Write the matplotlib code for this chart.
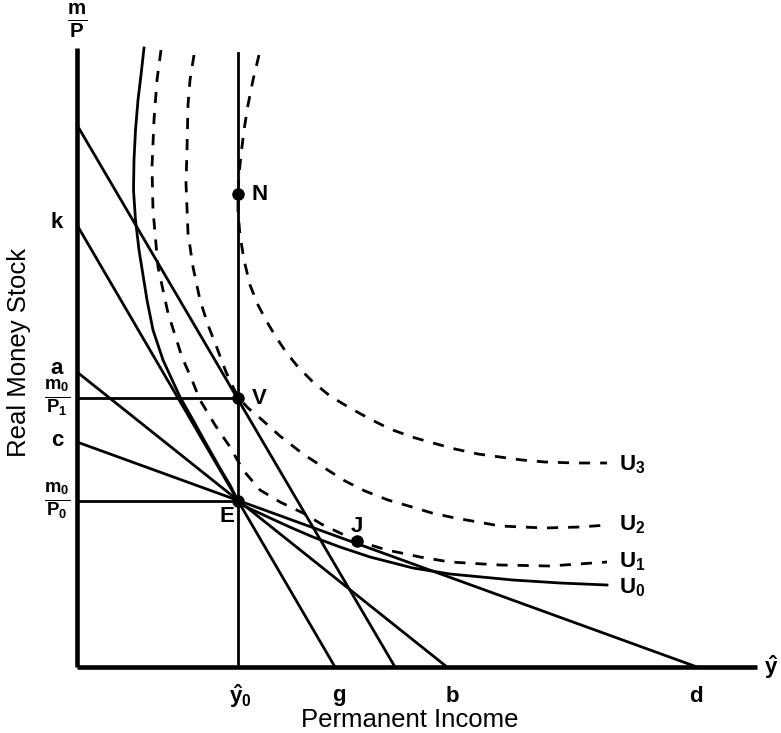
import numpy as np
import matplotlib
matplotlib.use("Agg")
import matplotlib.pyplot as plt

plt.rcParams['font.family'] = ['Liberation Sans', 'DejaVu Sans']
plt.rcParams['mathtext.fontset'] = 'custom'
plt.rcParams['mathtext.rm'] = 'Liberation Sans'
plt.rcParams['mathtext.it'] = 'Liberation Sans'
plt.rcParams['mathtext.bf'] = 'Liberation Sans:bold'
plt.rcParams['mathtext.default'] = 'regular'

# ---- data (units arbitrary) ----
E_pt = (16.1, 16.6)
V_pt = (16.1, 26.9)
N_pt = (16.1, 47.3)
J_pt = (28.0, 12.6)

# budget lines: (y-intercept, x-intercept)
line_kg = (44.2, 25.8)
line_top = (54.2, 31.8)
line_ab = (29.5, 37.0)
line_cd = (22.5, 62.0)

U0_x = [6.7, 6.4, 6.1, 5.85, 5.7, 5.65, 5.85, 6.2, 6.6, 7.0, 7.6, 8.6, 10.3, 11.6, 12.7, 14.4, 15.3, 16.1, 16.7,
        17.8, 19.3, 21.5, 23.6, 26.3, 29.3, 33.6, 37.3, 43.6, 48.3, 53.0]
U0_y = [61.9, 59.2, 56.7, 53.7, 50.7, 47.7, 44.7, 41.7, 39.2, 36.7, 33.7, 30.7, 27.0, 24.7, 22.7, 19.7, 18.2, 16.6, 16.1,
        15.6, 14.9, 13.9, 13.0, 12.0, 11.0, 9.9, 9.3, 8.7, 8.4, 8.2]

U1_x = [8.4, 8.0, 7.7, 7.5, 7.6, 8.1, 9.1, 10.5, 11.5, 12.3, 13.8, 15.3, 16.6, 18.3, 20.3, 22.6, 24.6, 26.3, 28.0,
        31.0, 34.3, 37.3, 42.3, 47.3, 53.0]
U1_y = [61.7, 58.7, 54.7, 50.0, 45.7, 40.0, 35.4, 31.0, 28.7, 26.7, 24.2, 22.0, 19.7, 17.7, 16.5, 15.4, 14.2, 13.4, 12.6,
        11.7, 11.0, 10.5, 10.2, 10.1, 10.5]

U2_x = [11.7, 11.3, 11.1, 11.0, 10.9, 11.1, 11.6, 12.3, 13.1, 14.0, 14.9, 15.5, 16.1, 17.1, 18.3, 20.3, 22.6, 24.6,
        26.8, 28.8, 31.1, 33.5, 35.5, 37.8, 40.1, 42.3, 46.8, 50.3, 53.0]
U2_y = [61.2, 58.7, 56.2, 51.7, 48.4, 43.4, 40.0, 36.7, 34.2, 31.9, 29.5, 28.2, 27.0, 25.9, 24.9, 23.1, 21.3, 20.0,
        18.6, 17.6, 16.7, 16.0, 15.4, 14.9, 14.5, 14.1, 13.9, 14.0, 14.2]

U3_x = [18.2, 17.6, 17.1, 16.7, 16.4, 16.2, 16.1, 16.1, 16.3, 16.7, 17.3, 18.1, 19.0, 19.9, 20.9, 22.1, 23.6, 25.3,
        27.3, 29.3, 31.3, 33.5, 35.6, 37.8, 40.1, 42.3, 44.5, 46.8, 49.8, 53.0]
U3_y = [61.2, 58.7, 56.2, 53.7, 51.2, 49.2, 47.3, 45.5, 43.2, 40.7, 38.2, 36.2, 34.5, 33.0, 31.5, 30.0, 28.5, 27.1,
        25.9, 24.8, 23.8, 23.0, 22.4, 21.8, 21.3, 21.0, 20.7, 20.5, 20.4, 20.4]

x_axis_end = 68.0
y_axis_top = 61.9
vline_top = 61.4

# ---- figure ----
fig = plt.figure(figsize=(7.81, 7.33), dpi=100)
ax = fig.add_axes([0, 0, 1, 1])
ax.set_xlim(-7.7, 70.4)
ax.set_ylim(-6.6, 66.7)
ax.axis('off')

k = 'black'
lw = 2.0
# axes
ax.plot([0, 0], [0, y_axis_top], color=k, lw=3.3, solid_capstyle='butt')
ax.plot([0, x_axis_end], [0, 0], color=k, lw=3.3, solid_capstyle='butt')
# vertical line at y0
ax.plot([E_pt[0], E_pt[0]], [0, vline_top], color=k, lw=lw)
# horizontal m0/P lines
ax.plot([0, E_pt[0]], [E_pt[1], E_pt[1]], color=k, lw=lw)
ax.plot([0, V_pt[0]], [V_pt[1], V_pt[1]], color=k, lw=lw)

for yi, xi in (line_kg, line_top, line_ab, line_cd):
    ax.plot([0, xi], [yi, 0], color=k, lw=lw, solid_capstyle='butt')

ax.plot(U0_x, U0_y, color=k, lw=lw, solid_joinstyle='round')
for xs, ys in ((U1_x, U1_y), (U2_x, U2_y), (U3_x, U3_y)):
    ax.plot(xs, ys, color=k, lw=lw, dashes=(4.0, 3.6))

for p in (E_pt, V_pt, N_pt, J_pt):
    ax.plot(p[0], p[1], 'o', color=k, ms=8)

fs = 16
bw = 'bold'
# point labels
ax.text(17.5, N_pt[1], 'N', fontsize=fs, fontweight=bw, ha='left', va='center')
ax.text(17.5, V_pt[1], 'V', fontsize=fs, fontweight=bw, ha='left', va='center')
ax.text(15.0, 15.0, 'E', fontsize=fs, fontweight=bw, ha='center', va='center')
ax.text(J_pt[0], 14.1, 'J', fontsize=fs, fontweight=bw, ha='center', va='center')

# curve labels
curve_labels = [r'$\mathbf{U_0}$', r'$\mathbf{U_1}$', r'$\mathbf{U_2}$', r'$\mathbf{U_3}$']
curve_label_y = [7.9, 10.5, 14.2, 20.2]
for lab, yy in zip(curve_labels, curve_label_y):
    ax.text(54.2, yy, lab, fontsize=fs, ha='left', va='center')

# y tick labels
ax.text(-2.0, 44.5, 'k', fontsize=fs, fontweight=bw, ha='center', va='center')
ax.text(-2.0, 29.8, 'a', fontsize=fs, fontweight=bw, ha='center', va='center')
ax.text(-2.0, V_pt[1], r'$\mathbf{\frac{m_0}{P_1}}$', fontsize=fs + 3, ha='center', va='center')
ax.text(-2.0, 22.7, 'c', fontsize=fs, fontweight=bw, ha='center', va='center')
ax.text(-2.0, E_pt[1], r'$\mathbf{\frac{m_0}{P_0}}$', fontsize=fs + 3, ha='center', va='center')
ax.text(0, 64.6, r'$\mathbf{\frac{m}{P}}$', fontsize=fs + 5, ha='center', va='center')

# x tick labels
ax.text(16.3, -2.9, r'$\mathbf{\hat{y}_0}$', fontsize=fs, ha='center', va='center')
ax.text(26.2, -2.9, 'g', fontsize=fs, fontweight=bw, ha='center', va='center')
ax.text(37.5, -2.9, 'b', fontsize=fs, fontweight=bw, ha='center', va='center')
ax.text(61.9, -2.9, 'd', fontsize=fs, fontweight=bw, ha='center', va='center')
ax.text(69.4, 0, r'$\mathbf{\hat{y}}$', fontsize=fs, ha='center', va='center')

ax.text(33.3, -5.3, 'Permanent Income', fontsize=18.5, ha='center', va='center')
ax.text(-5.8, 31.5, 'Real Money Stock', fontsize=18.5, ha='center', va='center', rotation=90)

fig.savefig('out.png', dpi=100)
